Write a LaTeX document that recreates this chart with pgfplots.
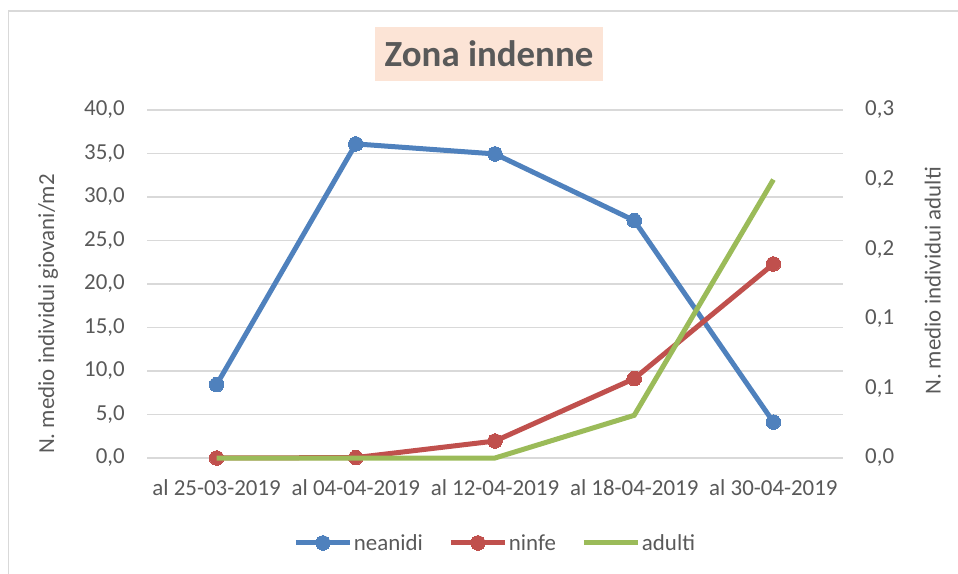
\documentclass[border=0pt]{standalone}
\usepackage{pgfplots}
\pgfplotsset{compat=1.18}
\usepackage{fontspec}
\setmainfont{Carlito}
\definecolor{txt}{HTML}{595959}
\definecolor{gridc}{HTML}{D9D9D9}
\definecolor{cblue}{HTML}{4F81BD}
\definecolor{cred}{HTML}{C0504D}
\definecolor{cgreen}{HTML}{9BBB59}
\definecolor{peach}{HTML}{FCE4D6}
\begin{document}
\begin{tikzpicture}[x=1bp,y=1bp]
\useasboundingbox (0,0) rectangle (958,-574);
\draw[gridc, line width=1.5bp] (8.5,-11) rectangle (975,-600);
\fill[peach] (375,-27) rectangle (603,-81);
\node[text=txt, font=\fontsize{37}{44}\selectfont\bfseries] at (489,-54) {Zona indenne};
\pgfplotsset{common/.style={
  scale only axis, width=696bp, height=348bp,
  at={(147bp,-458bp)}, anchor=south west,
  xmin=-0.5, xmax=4.5, clip=false,
  /pgf/number format/assume math mode=true,
  tick style={draw=none}, major tick length=0pt,
  tick label style={font=\fontsize{23}{27}\selectfont, text=txt},
  yticklabel style={/pgf/number format/fixed, /pgf/number format/fixed zerofill, /pgf/number format/precision=1, /pgf/number format/use comma},
}}
\begin{axis}[common,
  ymin=0, ymax=40, ytick={0,5,10,15,20,25,30,35,40},
  ymajorgrids, major grid style={gridc, line width=1.5bp},
  axis line style={draw=none},
  xtick={0,1,2,3,4},
  xticklabels={al 25-03-2019, al 04-04-2019, al 12-04-2019, al 18-04-2019, al 30-04-2019},
  xticklabel style={anchor=base, yshift=-37bp, inner sep=0pt},
  yticklabel style={anchor=east, xshift=-22bp, inner sep=0pt},
  every axis y label/.style={at={(rel axis cs:-0.142,0.414)}, rotate=90, anchor=center, font=\fontsize{23}{27}\selectfont, text=txt},
  ylabel={N. medio individui giovani/m2},
]
\addplot[cblue, line width=5bp, mark=*, mark size=7.3bp, mark options={fill=cblue, draw=cblue, line width=0pt}] coordinates {(0,8.43) (1,36.1) (2,34.95) (3,27.3) (4,4.13)};
\addplot[cred, line width=5bp, mark=*, mark size=7.3bp, mark options={fill=cred, draw=cred, line width=0pt}] coordinates {(0,0) (1,0.05) (2,1.95) (3,9.12) (4,22.3)};
\end{axis}
\begin{axis}[common,
  ymin=0, ymax=0.3, ytick={0,0.06,0.12,0.18,0.24,0.3},
  yticklabels={{0,0},{0,1},{0,1},{0,2},{0,2},{0,3}},
  axis x line=none, axis y line*=right, y axis line style={draw=none},
  yticklabel style={anchor=west, xshift=22bp, inner sep=0pt},
  every axis y label/.style={at={(rel axis cs:1.129,0.509)}, rotate=90, anchor=center, font=\fontsize{23}{27}\selectfont, text=txt},
  ylabel={N. medio individui adulti},
  legend columns=3,
  legend style={draw=none, fill=none, at={(rel axis cs:0.5,-0.244)}, anchor=center,
    font=\fontsize{23}{27}\selectfont, text=txt,
    /tikz/every even column/.append style={column sep=24bp},
    nodes={inner sep=1.5bp}},
  legend image code/.code={\draw[mark repeat=2,mark phase=2,#1] plot coordinates {(0bp,0bp) (27bp,0bp) (54bp,0bp)};},
]
\addlegendimage{cblue, line width=5bp, mark=*, mark size=7.3bp, mark options={fill=cblue, draw=cblue, line width=0pt}}
\addlegendentry{neanidi}
\addlegendimage{cred, line width=5bp, mark=*, mark size=7.3bp, mark options={fill=cred, draw=cred, line width=0pt}}
\addlegendentry{ninfe}
\addplot[cgreen, line width=5bp, mark=none] coordinates {(0,0) (1,0) (2,0) (3,0.0368) (4,0.24)};
\addlegendentry{adulti}
\end{axis}
\end{tikzpicture}
\end{document}
